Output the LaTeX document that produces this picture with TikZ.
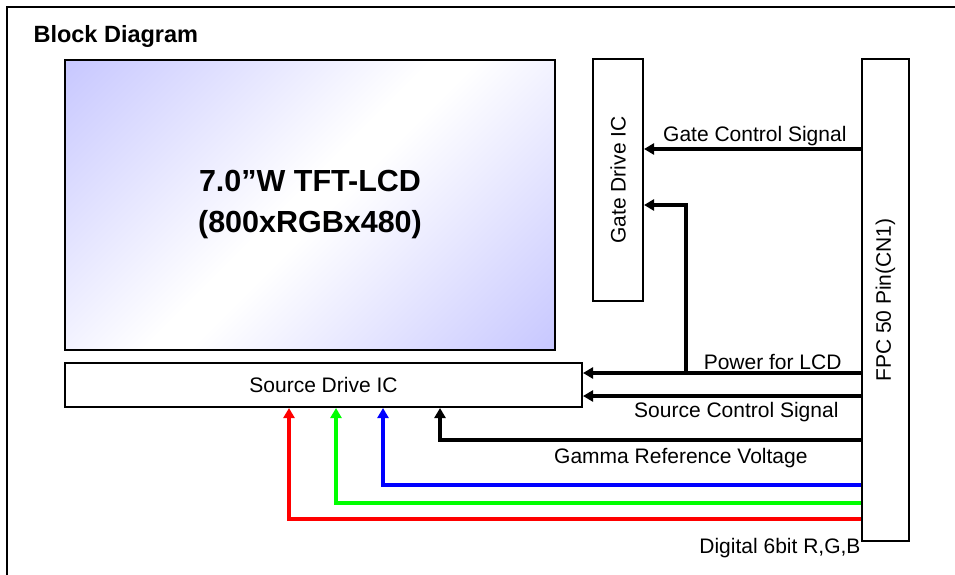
\documentclass[tikz,border=0pt]{standalone}
\usepackage{fontspec}
\setmainfont{Liberation Sans}
\usetikzlibrary{arrows.meta}
\definecolor{lcdblue}{RGB}{200,200,255}
\definecolor{sigred}{RGB}{255,0,0}
\definecolor{siggreen}{RGB}{0,255,0}
\definecolor{sigblue}{RGB}{0,0,255}
\pgfdeclarehorizontalshading{lcdglow}{100bp}{color(0bp)=(lcdblue); color(15bp)=(lcdblue); color(48bp)=(white); color(52bp)=(white); color(85bp)=(lcdblue); color(100bp)=(lcdblue)}
\newcommand{\lblsize}{\fontsize{21}{25}\selectfont}

\begin{document}
\begin{tikzpicture}[x=1pt,y=-1pt,
    block/.style={draw=black, line width=2pt, rectangle, inner sep=0pt},
    wire/.style={line width=4pt},
    feed/.style={wire, -{Triangle[length=10pt,width=11pt]}},
    every node/.style={font=\lblsize}]
    \useasboundingbox (0,0) rectangle (955,575);
    \draw [line width=2pt] (7,575) -- (7,7) -- (955,7);
    \node [anchor=base west, font=\fontsize{23.5}{27}\selectfont\bfseries] (title) at (30,43) {Block Diagram};
    % blocks
    \node [block, shade, shading=lcdglow, shading angle=-45, minimum width=490pt, minimum height=290pt,
        align=center, font=\fontsize{30.5}{41}\selectfont\bfseries] (lcd) at (310,205) {7.0”W TFT-LCD\\(800xRGBx480)};
    \node [block, minimum width=50pt, minimum height=242pt, label={[rotate=90]center:Gate Drive IC}] (gate) at (618,180) {};
    \node [block, minimum width=47pt, minimum height=482pt, label={[rotate=90]center:FPC 50 Pin(CN1)}] (fpc) at (885.5,300) {};
    \node [block, minimum width=517pt, minimum height=44pt] (src) at (323.5,385) {Source Drive IC};
    % rows and corners
    \coordinate (gcs) at (0,149);
    \coordinate (gpw) at (686,205);
    \coordinate (pwr) at (686,373);
    \coordinate (scs) at (0,396);
    \coordinate (gam) at (440,440);
    \coordinate (bch) at (383,485);
    \coordinate (gch) at (336,503);
    \coordinate (rch) at (289,519);
    % connectors
    \draw [feed] (fpc.west |- gcs) -- (gate.east |- gcs);
    \draw [feed] (fpc.west |- pwr) -- (src.east |- pwr);
    \draw [feed] (pwr) -- (gpw) -- (gate.east |- gpw);
    \draw [feed] (fpc.west |- scs) -- (src.east |- scs);
    \draw [feed] (fpc.west |- gam) -- (gam) -- (src.south -| gam);
    \draw [feed, sigblue] (fpc.west |- bch) -- (bch) -- (src.south -| bch);
    \draw [feed, siggreen] (fpc.west |- gch) -- (gch) -- (src.south -| gch);
    \draw [feed, sigred] (fpc.west |- rch) -- (rch) -- (src.south -| rch);
    % labels
    \node [anchor=base east] (gcslbl) at (850,142) {Gate Control Signal};
    \node [anchor=base east] (pwrlbl) at (845,369) {Power for LCD};
    \node [anchor=base east] (scslbl) at (842,417) {Source Control Signal};
    \node [anchor=base east] (gamlbl) at (811,463) {Gamma Reference Voltage};
    \node [anchor=base east] (rgblbl) at (864,553) {Digital 6bit R,G,B};
\end{tikzpicture}
\end{document}
